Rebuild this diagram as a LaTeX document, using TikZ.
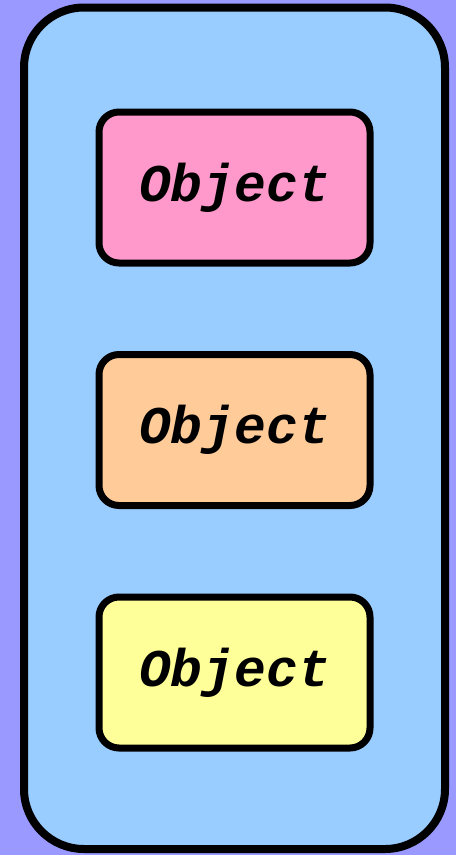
\documentclass[tikz,border=0pt]{standalone}
\usepackage{fontspec}
\usepackage{xcolor}
\usepackage{tikz}
\usetikzlibrary{positioning}
\newfontfamily\objfont{Liberation Mono}
\definecolor{bgpurple}{HTML}{9999FF}
\definecolor{framefill}{HTML}{99CCFF}
\definecolor{pinkfill}{HTML}{FF99CC}
\definecolor{peachfill}{HTML}{FFCC99}
\definecolor{lemonfill}{HTML}{FFFF99}

\begin{document}
\begin{tikzpicture}[
  x=1pt, y=-1pt,
  font=\objfont\bfseries\itshape\fontsize{53}{60}\selectfont,
  container/.style={draw, line width=8pt, rounded corners=60pt, fill=framefill},
  objbox/.style={draw, line width=7pt, rounded corners=20pt, minimum width=271pt, minimum height=151pt, inner sep=0pt},
  node distance=84.5pt
]
\fill[bgpurple] (0,0) rectangle (456,855);
\draw[container] (24,7.5) rectangle (445,849);
\node[objbox, fill=pinkfill] (obj1) at (234.5,187.5) {Object};
\node[objbox, fill=peachfill, below=of obj1] (obj2) {Object};
\node[objbox, fill=lemonfill, below=of obj2] (obj3) {Object};
\end{tikzpicture}
\end{document}
